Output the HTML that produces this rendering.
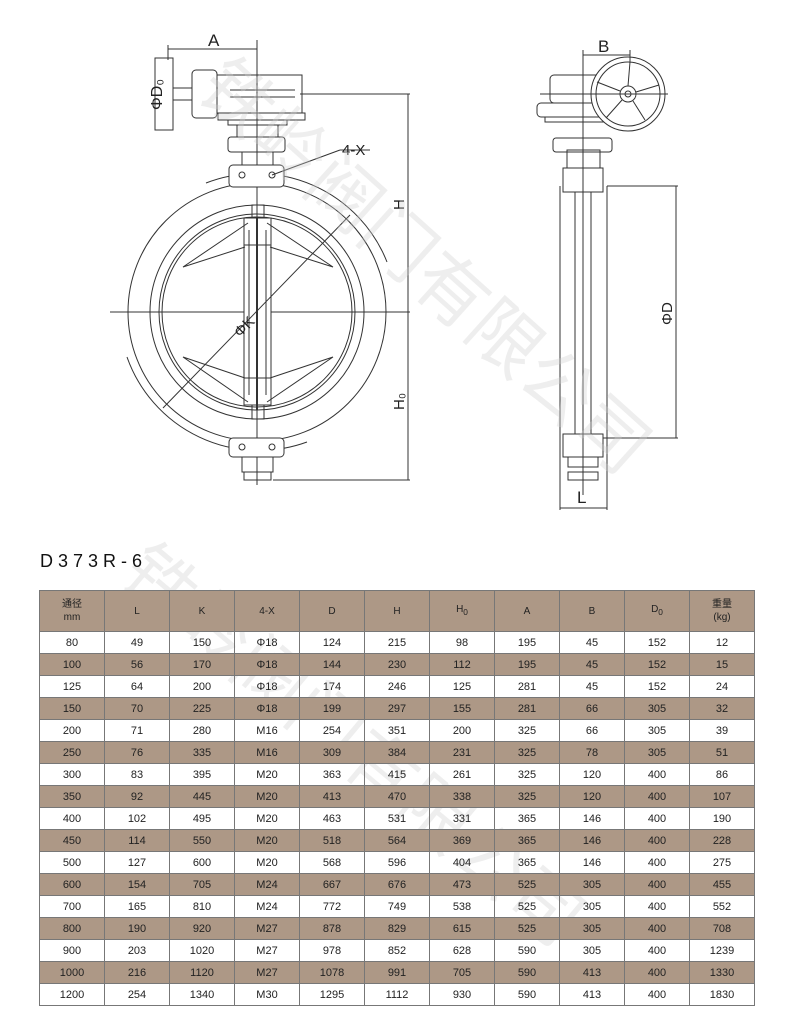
<!DOCTYPE html>
<html><head><meta charset="utf-8"><style>
body{margin:0;width:800px;height:1028px;background:#fff;position:relative;overflow:hidden;font-family:"Liberation Sans","Noto Sans CJK SC",sans-serif}
svg{position:absolute;left:0;top:0}
.t{position:absolute;left:39px;top:590px;border-collapse:collapse;font-size:11px;color:#222}
.t td{border:1px solid #777;width:64px;height:21px;padding:0;text-align:center}
.t tr.h td{height:40px;background:#ad9886;font-size:10px;line-height:13px}
.t tr.b td{background:#ad9886}
.title{position:absolute;left:40px;top:551px;font-size:18px;letter-spacing:5px;color:#111}
.wm{position:absolute;font-size:72px;color:rgba(205,205,205,0.35);white-space:nowrap;transform-origin:0 0;font-family:"Noto Sans CJK SC",sans-serif}
</style></head><body>
<svg width="800" height="540" viewBox="0 0 800 540" fill="none" stroke="#333" stroke-width="1">
<line x1="257" y1="40" x2="257" y2="485"/>
<line x1="110" y1="312" x2="410" y2="312"/>
<circle cx="257" cy="312" r="129"/>
<circle cx="257" cy="312" r="107"/>
<circle cx="257" cy="312" r="98"/>
<circle cx="257" cy="312" r="95"/>
<path d="M206 183 A140 140 0 0 1 387 262"/>
<path d="M127 357 A140 140 0 0 0 307 442"/>
<rect x="229" y="165" width="55" height="22" rx="4" fill="#fff"/>
<circle cx="242" cy="175" r="3"/><circle cx="272" cy="175" r="3"/>
<rect x="229" y="438" width="55" height="19" rx="4" fill="#fff"/>
<circle cx="242" cy="447" r="3"/><circle cx="272" cy="447" r="3"/>
<rect x="242" y="457" width="31" height="15"/><rect x="244" y="472" width="27" height="8"/>
<rect x="252" y="205" width="12" height="214"/>
<rect x="244" y="218" width="27" height="187" fill="#fff"/>
<line x1="249" y1="230" x2="249" y2="395"/><line x1="266" y1="230" x2="266" y2="395"/>
<line x1="244" y1="245" x2="271" y2="245"/><line x1="244" y1="378" x2="271" y2="378"/>
<path d="M248 223 L183 267 L245 247"/><path d="M267 223 L333 267 L270 247"/>
<path d="M248 402 L183 357 L245 378"/><path d="M267 402 L333 357 L270 378"/>
<line x1="163" y1="408" x2="350" y2="215"/>
<line x1="257" y1="218" x2="257" y2="410" stroke-width="2"/>
<rect x="155" y="58" width="18" height="72"/>
<rect x="173" y="88" width="19" height="12"/>
<rect x="192" y="70" width="25" height="48" rx="4"/>
<rect x="217" y="75" width="85" height="38"/>
<line x1="230" y1="90" x2="295" y2="90"/><line x1="230" y1="97" x2="295" y2="97"/>
<rect x="218" y="113" width="87" height="7"/>
<rect x="228" y="120" width="59" height="5"/>
<rect x="237" y="125" width="41" height="12"/>
<rect x="228" y="137" width="57" height="15" rx="3"/>
<rect x="242" y="152" width="31" height="13"/>
<line x1="168" y1="49" x2="257" y2="49"/><line x1="168" y1="45" x2="168" y2="60"/>
<line x1="300" y1="94" x2="410" y2="94"/>
<line x1="408" y1="94" x2="408" y2="480"/>
<line x1="273" y1="480" x2="410" y2="480"/>
<line x1="272" y1="175" x2="340" y2="150"/><line x1="340" y1="150" x2="370" y2="150"/>
<line x1="583" y1="50" x2="583" y2="495"/>
<line x1="560" y1="186" x2="560" y2="510"/><line x1="607" y1="186" x2="607" y2="510"/>
<line x1="575" y1="192" x2="575" y2="434"/><line x1="591" y1="192" x2="591" y2="434"/>
<rect x="563" y="168" width="40" height="24" fill="#fff"/>
<rect x="567" y="150" width="33" height="18"/>
<rect x="553" y="138" width="59" height="14" rx="3"/>
<rect x="550" y="75" width="53" height="28" rx="4"/>
<rect x="537" y="103" width="68" height="14" rx="4"/>
<rect x="545" y="117" width="60" height="5"/>
<circle cx="628" cy="94" r="37" fill="#fff"/><circle cx="628" cy="94" r="32"/>
<circle cx="628" cy="94" r="8"/><circle cx="628" cy="94" r="3"/>
<path d="M628 86 L630 62 M636 92 L659 85 M633 101 L645 120 M622 100 L606 118 M620 91 L597 82"/>
<line x1="540" y1="94" x2="668" y2="94"/>
<rect x="563" y="434" width="40" height="23" fill="#fff"/>
<rect x="568" y="457" width="30" height="10"/><rect x="568" y="472" width="30" height="8"/>
<line x1="583" y1="50" x2="583" y2="495"/>
<line x1="583" y1="55" x2="630" y2="55"/><line x1="630" y1="50" x2="630" y2="62"/>
<line x1="607" y1="186" x2="678" y2="186"/><line x1="603" y1="438" x2="678" y2="438"/>
<line x1="676" y1="186" x2="676" y2="438"/>
<line x1="560" y1="508" x2="607" y2="508"/>
<g fill="#222" stroke="none" font-family="Liberation Sans, sans-serif">
<text x="208" y="46" font-size="17">A</text>
<text x="598" y="52" font-size="17">B</text>
<text x="577" y="503" font-size="17">L</text>
<text x="342" y="155" font-size="15">4-X</text>
<text transform="translate(162,110) rotate(-90)" font-size="16">ΦD₀</text>
<text transform="translate(404,210) rotate(-90)" font-size="15">H</text>
<text transform="translate(404,410) rotate(-90)" font-size="15">H₀</text>
<text transform="translate(672,325) rotate(-90)" font-size="15">ΦD</text>
<text transform="translate(240,338) rotate(-45)" font-size="15">ΦK</text>
</g>
</svg>
<div class="wm" style="left:250px;top:30px;transform:rotate(42deg)">铁岭阀门有限公司</div>
<div class="wm" style="left:170px;top:515px;transform:rotate(40deg)">铁岭阀门有限公司</div>
<div class="title">D373R-6</div>
<table class="t">
<tr class="h"><td>通径<br>mm</td><td>L</td><td>K</td><td>4-X</td><td>D</td><td>H</td><td>H<sub>0</sub></td><td>A</td><td>B</td><td>D<sub>0</sub></td><td>重量<br>(kg)</td></tr>
<tr><td>80</td><td>49</td><td>150</td><td>Φ18</td><td>124</td><td>215</td><td>98</td><td>195</td><td>45</td><td>152</td><td>12</td></tr>
<tr class="b"><td>100</td><td>56</td><td>170</td><td>Φ18</td><td>144</td><td>230</td><td>112</td><td>195</td><td>45</td><td>152</td><td>15</td></tr>
<tr><td>125</td><td>64</td><td>200</td><td>Φ18</td><td>174</td><td>246</td><td>125</td><td>281</td><td>45</td><td>152</td><td>24</td></tr>
<tr class="b"><td>150</td><td>70</td><td>225</td><td>Φ18</td><td>199</td><td>297</td><td>155</td><td>281</td><td>66</td><td>305</td><td>32</td></tr>
<tr><td>200</td><td>71</td><td>280</td><td>M16</td><td>254</td><td>351</td><td>200</td><td>325</td><td>66</td><td>305</td><td>39</td></tr>
<tr class="b"><td>250</td><td>76</td><td>335</td><td>M16</td><td>309</td><td>384</td><td>231</td><td>325</td><td>78</td><td>305</td><td>51</td></tr>
<tr><td>300</td><td>83</td><td>395</td><td>M20</td><td>363</td><td>415</td><td>261</td><td>325</td><td>120</td><td>400</td><td>86</td></tr>
<tr class="b"><td>350</td><td>92</td><td>445</td><td>M20</td><td>413</td><td>470</td><td>338</td><td>325</td><td>120</td><td>400</td><td>107</td></tr>
<tr><td>400</td><td>102</td><td>495</td><td>M20</td><td>463</td><td>531</td><td>331</td><td>365</td><td>146</td><td>400</td><td>190</td></tr>
<tr class="b"><td>450</td><td>114</td><td>550</td><td>M20</td><td>518</td><td>564</td><td>369</td><td>365</td><td>146</td><td>400</td><td>228</td></tr>
<tr><td>500</td><td>127</td><td>600</td><td>M20</td><td>568</td><td>596</td><td>404</td><td>365</td><td>146</td><td>400</td><td>275</td></tr>
<tr class="b"><td>600</td><td>154</td><td>705</td><td>M24</td><td>667</td><td>676</td><td>473</td><td>525</td><td>305</td><td>400</td><td>455</td></tr>
<tr><td>700</td><td>165</td><td>810</td><td>M24</td><td>772</td><td>749</td><td>538</td><td>525</td><td>305</td><td>400</td><td>552</td></tr>
<tr class="b"><td>800</td><td>190</td><td>920</td><td>M27</td><td>878</td><td>829</td><td>615</td><td>525</td><td>305</td><td>400</td><td>708</td></tr>
<tr><td>900</td><td>203</td><td>1020</td><td>M27</td><td>978</td><td>852</td><td>628</td><td>590</td><td>305</td><td>400</td><td>1239</td></tr>
<tr class="b"><td>1000</td><td>216</td><td>1120</td><td>M27</td><td>1078</td><td>991</td><td>705</td><td>590</td><td>413</td><td>400</td><td>1330</td></tr>
<tr><td>1200</td><td>254</td><td>1340</td><td>M30</td><td>1295</td><td>1112</td><td>930</td><td>590</td><td>413</td><td>400</td><td>1830</td></tr>
</table>
</body></html>
